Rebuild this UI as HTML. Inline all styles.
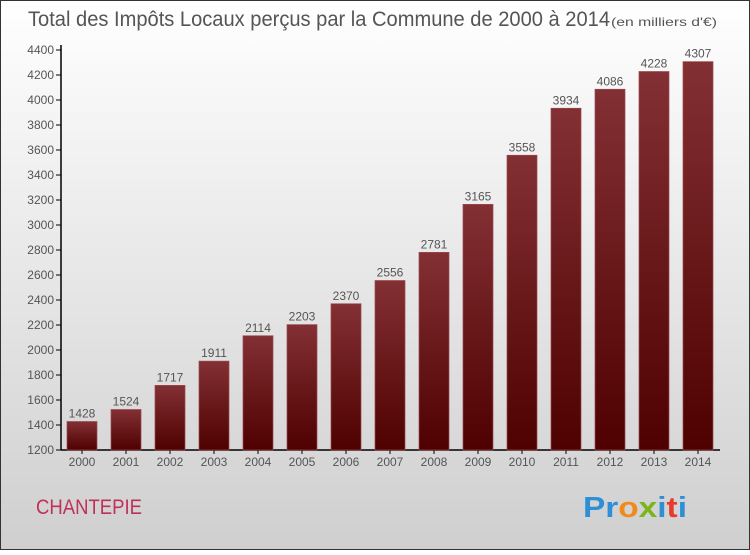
<!DOCTYPE html>
<html><head><meta charset="utf-8"><style>
body{margin:0;}
#c{width:750px;height:550px;position:relative;font-family:"Liberation Sans",sans-serif;}
</style></head><body>
<div id="c">
<svg id="s" width="750" height="550" xmlns="http://www.w3.org/2000/svg">
<defs>
<linearGradient id="bg" x1="0" y1="0" x2="0" y2="1"><stop offset="0" stop-color="#ffffff"/><stop offset="1" stop-color="#cfcfcf"/></linearGradient>
<linearGradient id="bar" x1="0" y1="0" x2="0" y2="1"><stop offset="0" stop-color="#833034"/><stop offset="1" stop-color="#4f0000"/></linearGradient>
</defs>
<rect x="0.5" y="0.5" width="749" height="549" fill="url(#bg)" stroke="#333" stroke-width="1"/>
<text x="28" y="26" font-size="21" fill="#555" textLength="582" lengthAdjust="spacingAndGlyphs">Total des Impôts Locaux perçus par la Commune de 2000 à 2014</text>
<text x="611" y="26" font-size="12" fill="#555" textLength="106" lengthAdjust="spacingAndGlyphs">(en milliers d'€)</text>
<text x="36" y="514" font-size="21" fill="#c0305a" textLength="106" lengthAdjust="spacingAndGlyphs">CHANTEPIE</text>
<g font-size="29" font-weight="bold">
<text x="583" y="517" textLength="104" lengthAdjust="spacingAndGlyphs"><tspan fill="#2e8fd6">Pr</tspan><tspan fill="#f08a1c">o</tspan><tspan fill="#7ab51d">x</tspan><tspan fill="#2e8fd6">i</tspan><tspan fill="#e8392c">t</tspan><tspan fill="#2e8fd6">i</tspan></text>
</g>
<g id="axes"></g>
<g id="bars"></g>
</svg>
</div>
<script>
const years=["2000","2001","2002","2003","2004","2005","2006","2007","2008","2009","2010","2011","2012","2013","2014"];
const values=[1428,1524,1717,1911,2114,2203,2370,2556,2781,3165,3558,3934,4086,4228,4307];
const yTicks=[1200,1400,1600,1800,2000,2200,2400,2600,2800,3000,3200,3400,3600,3800,4000,4200,4400];
const NS="http://www.w3.org/2000/svg";
const y0=450,yMin=1200,yMax=4400,yTop=50;
function yS(v){return y0-(v-yMin)/(yMax-yMin)*(y0-yTop);}
function xS(i){return 82+i*44;}
function mk(t,a,p){const e=document.createElementNS(NS,t);for(const k in a)e.setAttribute(k,a[k]);p.appendChild(e);return e;}
const ax=document.getElementById('axes'),bg=document.getElementById('bars');
const yl=mk('line',{x1:61,y1:yTop-5,x2:61,y2:y0,stroke:'#000','stroke-width':1.5},ax);


const xl=mk('line',{x1:61,y1:y0,x2:720,y2:y0,stroke:'#000','stroke-width':1.5},ax);


yTicks.forEach(v=>{
  mk('line',{x1:56,y1:yS(v),x2:61,y2:yS(v),stroke:'#000'},ax);
  const t=mk('text',{x:54,y:yS(v)+4,'font-size':12,fill:'#555','text-anchor':'end'},ax);
  t.textContent=v;
  
  
});
years.forEach((yr,i)=>{
  const x=xS(i);
  mk('line',{x1:x,y1:y0,x2:x,y2:y0+4,stroke:'#000'},ax);
  const t=mk('text',{x:x,y:y0+16,'font-size':12,fill:'#555','text-anchor':'middle'},ax);
  t.textContent=yr;
  
  
  const r=mk('rect',{x:x-15,y:yS(values[i]),width:30,height:y0-yS(values[i]),fill:'url(#bar)',stroke:'#9a4a4e','stroke-width':0.7},bg);
  
  
  const l=mk('text',{x:x,y:yS(values[i])-4,'font-size':12,fill:'#555','text-anchor':'middle'},bg);
  l.textContent=values[i];
  
  
});
</script>
</body></html>
